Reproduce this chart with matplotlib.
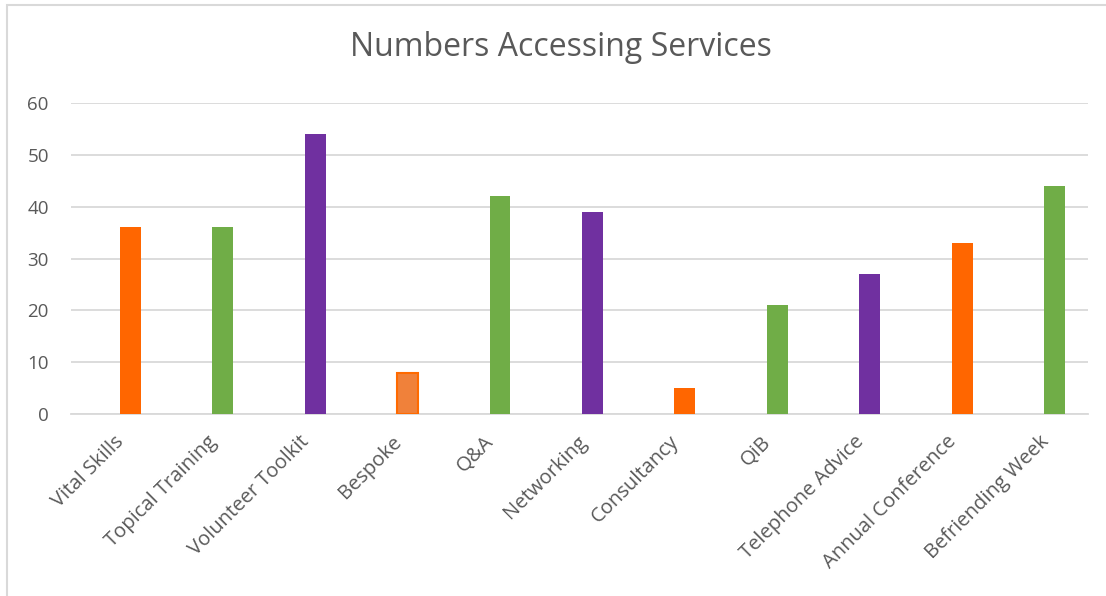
import matplotlib
matplotlib.use("Agg")
import matplotlib.pyplot as plt
from matplotlib.patches import Rectangle

categories = ["Vital Skills", "Topical Training", "Volunteer Toolkit", "Bespoke", "Q&A",
              "Networking", "Consultancy", "QiB", "Telephone Advice", "Annual Conference",
              "Befriending Week"]
values = [36, 36, 54, 8, 42, 39, 5, 21, 27, 33, 44]
colors = ["#FF6600", "#70AD47", "#7030A0", "#F0813A", "#70AD47", "#7030A0",
          "#FF6600", "#70AD47", "#7030A0", "#FF6600", "#70AD47"]
edgecolors = ["none", "none", "none", "#FF6A00", "none", "none",
              "none", "none", "none", "none", "none"]
yticks = [0, 10, 20, 30, 40, 50, 60]

plt.rcParams['font.family'] = ['Open Sans', 'DejaVu Sans']

W, H = 1106, 596
fig = plt.figure(figsize=(W / 100, H / 100), dpi=100)
fig.patch.set_facecolor("white")

# outer chart border (cut off at right/bottom)
fig.patches.append(Rectangle((7 / W, -0.1), 1.2, (H - 5) / H + 0.1, transform=fig.transFigure,
                             fill=False, edgecolor="#D9D9D9", linewidth=1.5))

left, right = 71, 1088
top, bottom = 103, 414
ax = fig.add_axes([left / W, 1 - bottom / H, (right - left) / W, (bottom - top) / H])

x = list(range(len(categories)))
ax.bar(x, values, width=0.227, color=colors, edgecolor=edgecolors, linewidth=1.5, zorder=3)

ax.set_ylim(0, 60)
ax.set_xlim(-0.638, 10.357)
ax.set_yticks(yticks)
ax.set_yticklabels([str(v) for v in yticks])
ax.yaxis.grid(True, color="#D9D9D9", linewidth=1.3, zorder=0)
ax.set_axisbelow(True)
for s in ["top", "right", "left"]:
    ax.spines[s].set_visible(False)
ax.spines["bottom"].set_color("#D9D9D9")
ax.spines["bottom"].set_linewidth(1.3)
ax.tick_params(axis="both", length=0, colors="#595959")
ax.tick_params(axis="y", pad=16, labelsize=13.5)
ax.tick_params(axis="x", pad=13, labelsize=14.5)
ax.set_xticks([xi - 0.175 for xi in x])
ax.set_xticklabels(categories, rotation=45, ha="right", rotation_mode="anchor")

fig.text(561 / W, 1 - 48 / H, "Numbers Accessing Services", ha="center", va="center",
         fontsize=23, color="#595959")

fig.savefig("out.png", dpi=100)
